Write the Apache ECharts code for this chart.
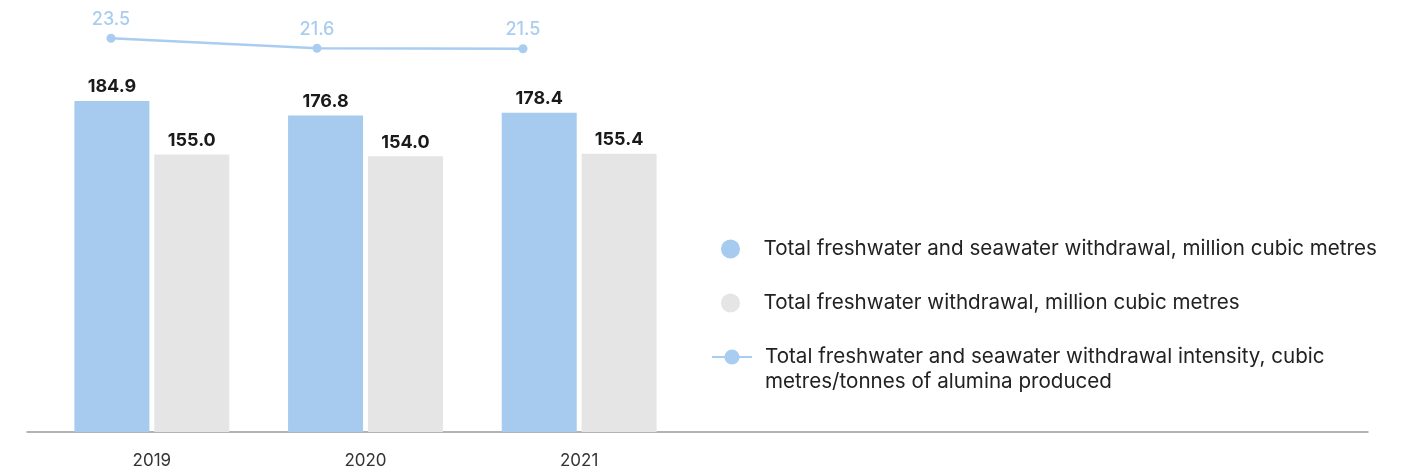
<!DOCTYPE html>
<html>
<head>
<meta charset="utf-8">
<script src="https://cdn.jsdelivr.net/npm/echarts@6/dist/echarts.min.js"></script>
<style>
  html, body { margin: 0; padding: 0; background: #ffffff; }
  #chart { width: 1408px; height: 475px; }
</style>
</head>
<body>
<div id="chart"></div>
<script>
// Water withdrawal by year
const years = ['2019', '2020', '2021'];
const totalWithdrawal = [184.9, 176.8, 178.4];      // million cubic metres
const freshWithdrawal = [155.0, 154.0, 155.4];      // million cubic metres
const withdrawalIntensity = [23.5, 21.6, 21.5];     // cubic metres / tonnes of alumina

const seriesNames = [
  'Total freshwater and seawater withdrawal, million cubic metres',
  'Total freshwater withdrawal, million cubic metres',
  'Total freshwater and seawater withdrawal intensity, cubic\nmetres/tonnes of alumina produced'
];

const BLUE = '#a6cbee';
const GREY = '#e5e5e5';
const LINE = '#a9cdf0';
const FONT = 'Inter, "Noto Sans", sans-serif';

const legendText = {
  color: '#222222', fontSize: 20.6, lineHeight: 25, fontFamily: FONT,
  padding: [0, 0, 0, 8]
};

const chart = echarts.init(document.getElementById('chart'));

chart.setOption({
  animation: false,
  textStyle: { fontFamily: FONT },
  grid: [
    // bars
    { left: 45, width: 641, top: 2.4, bottom: 43 },
    // intensity line
    { left: 111, right: 885, top: 4, bottom: 313 },
    // long baseline under the chart
    { left: 27, right: 40, top: 2.4, bottom: 43 }
  ],
  xAxis: [
    {
      type: 'category', gridIndex: 0, data: years,
      axisLine: { show: false }, axisTick: { show: false },
      axisLabel: { color: '#333333', fontSize: 17, margin: 20, fontFamily: FONT }
    },
    {
      type: 'category', gridIndex: 1, data: years, boundaryGap: false,
      axisLine: { show: false }, axisTick: { show: false }, axisLabel: { show: false }
    },
    {
      type: 'value', gridIndex: 2, min: 0, max: 1,
      axisLine: { show: true, lineStyle: { color: '#9a9a9a', width: 1.5 } },
      axisTick: { show: false }, axisLabel: { show: false }, splitLine: { show: false }
    }
  ],
  yAxis: [
    { type: 'value', gridIndex: 0, min: 0, max: 240, show: false, splitLine: { show: false } },
    { type: 'value', gridIndex: 1, min: 0, max: 30, show: false, splitLine: { show: false } },
    { type: 'value', gridIndex: 2, min: 0, max: 1, show: false, splitLine: { show: false } }
  ],
  legend: [
    {
      // the two bar series
      orient: 'vertical',
      left: 716,
      top: 231.5,
      itemWidth: 40,
      itemHeight: 19,
      itemGap: 29,
      selectedMode: false,
      textStyle: legendText,
      data: [
        { name: seriesNames[0], icon: 'circle' },
        { name: seriesNames[1], icon: 'circle' }
      ]
    },
    {
      // the intensity line; its icon sits level with the first text line
      orient: 'vertical',
      left: 706,
      top: 314.5,
      itemWidth: 40,
      itemHeight: 19,
      selectedMode: false,
      textStyle: legendText,
      formatter: name => ' \n' + name,
      data: [{ name: seriesNames[2] }]
    }
  ],
  series: [
    {
      name: seriesNames[0], type: 'bar', xAxisIndex: 0, yAxisIndex: 0,
      data: totalWithdrawal, barWidth: 75, barGap: '6.5%',
      itemStyle: { color: BLUE },
      label: {
        show: true, position: 'top', distance: 5,
        color: '#1a1a1a', fontSize: 18, fontWeight: 'bold', fontFamily: FONT,
        formatter: p => p.value.toFixed(1)
      }
    },
    {
      name: seriesNames[1], type: 'bar', xAxisIndex: 0, yAxisIndex: 0,
      data: freshWithdrawal, barWidth: 75,
      itemStyle: { color: GREY },
      label: {
        show: true, position: 'top', distance: 5,
        color: '#1a1a1a', fontSize: 18, fontWeight: 'bold', fontFamily: FONT,
        formatter: p => p.value.toFixed(1)
      }
    },
    {
      name: seriesNames[2], type: 'line', xAxisIndex: 1, yAxisIndex: 1,
      data: withdrawalIntensity,
      symbol: 'circle', symbolSize: 9,
      lineStyle: { color: LINE, width: 2.5 },
      itemStyle: { color: LINE },
      label: {
        show: true, position: 'top', distance: 5.5,
        color: LINE, fontSize: 18, fontWeight: 500, fontFamily: FONT,
        formatter: p => p.value.toFixed(1)
      }
    }
  ]
});
</script>
</body>
</html>
